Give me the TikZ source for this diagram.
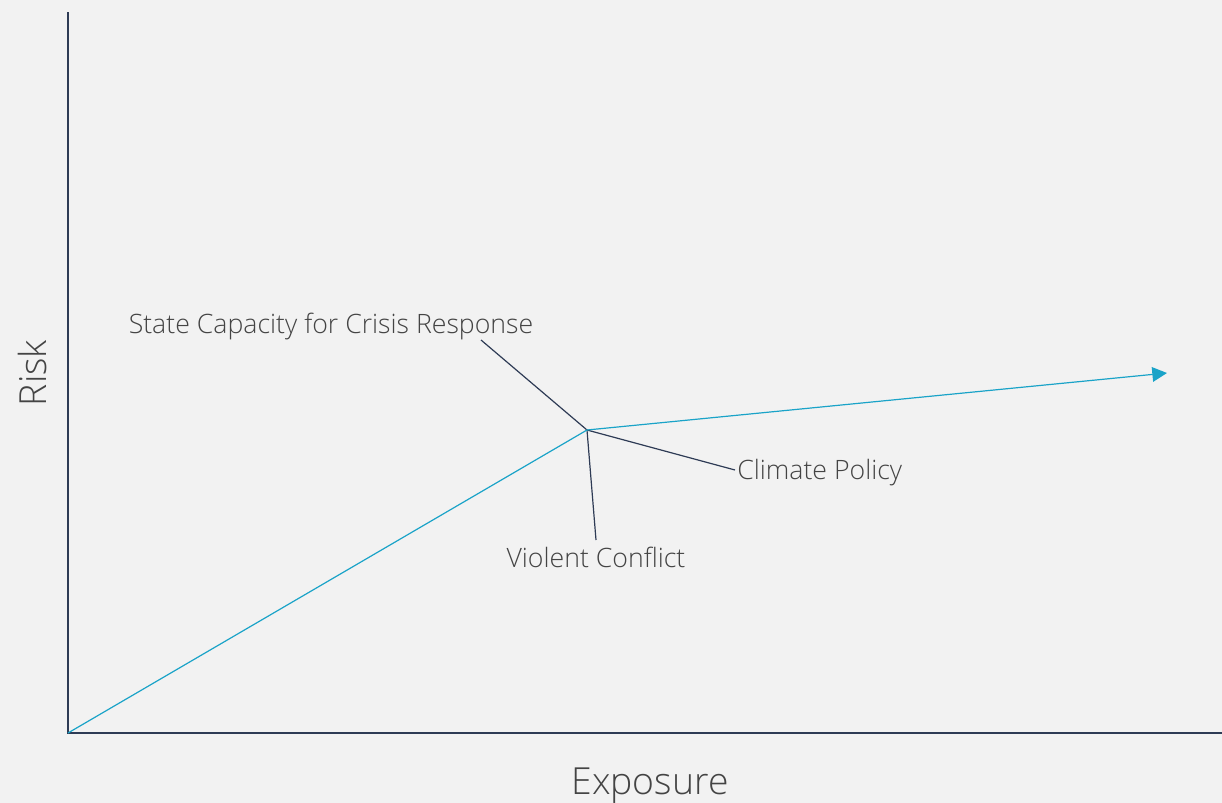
\documentclass[tikz,border=0pt]{standalone}
\usepackage{fontspec}
\setmainfont{Open Sans}[UprightFont={* Light}]
\usetikzlibrary{arrows.meta}
\definecolor{bg}{HTML}{F2F2F2}
\definecolor{axisc}{HTML}{2E3B55}
\definecolor{bluec}{HTML}{1AA3C8}
\definecolor{txtc}{HTML}{444444}
\tikzset{
  axisline/.style={draw=axisc, line width=1pt},
  pathline/.style={draw=bluec, line width=0.9pt},
  leader/.style={draw=axisc, line width=0.9pt},
  lbl/.style={text=txtc, font=\fontsize{20}{24}\selectfont, inner sep=0pt},
  biglbl/.style={text=txtc, font=\fontsize{28}{33}\selectfont, inner sep=0pt}
}
\begin{document}
\begin{tikzpicture}[x=0.75pt, y=-0.75pt]
\fill[bg] (0,0) rectangle (1222,803);
\useasboundingbox (0,0) rectangle (1222,803);
% axes
\coordinate (o) at (68,733);
\coordinate (ytop) at (68,12);
\coordinate (xend) at (1222,733);
\draw[axisline] (ytop) -- (o) -- (xend);
% nodes
\coordinate (j) at (587,430);
\coordinate (tip) at (1167,373);
\node[lbl] (state) at (331,326) {State Capacity for Crisis Response};
\node[lbl, anchor=west] (climate) at (737,473) {Climate Policy};
\node[lbl] (violent) at (596,557) {Violent Conflict};
\node[biglbl] (expo) at (650,786) {Exposure};
\node[biglbl, rotate=90] (risk) at (32,373) {Risk};
\coordinate (sEnd) at (481,340);
\coordinate (cEnd) at (735,470);
\coordinate (vEnd) at (596,540);
% leaders
\draw[leader] (j) -- (sEnd);
\draw[leader] (j) -- (cEnd);
\draw[leader] (j) -- (vEnd);
% path
\draw[pathline, -{Triangle[length=11pt,width=11pt]}] (o) -- (j) -- (tip);
\end{tikzpicture}
\end{document}
